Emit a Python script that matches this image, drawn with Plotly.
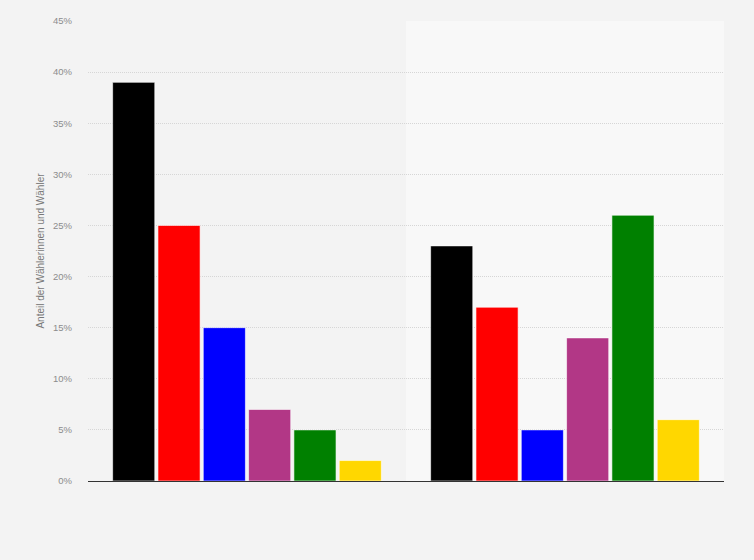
import plotly.graph_objects as go

# two groups, no labels shown on the axis
groups = ["Gruppe 1", "Gruppe 2"]

parties = ["CDU", "SPD", "AfD", "Die Linke", "Grüne", "FDP"]
colors = ["#000000", "#ff0000", "#0000ff", "#b23786", "#008000", "#ffd700"]

# share per party, in percent
values = {
    "CDU": [39, 23],
    "SPD": [25, 17],
    "AfD": [15, 5],
    "Die Linke": [7, 14],
    "Grüne": [5, 26],
    "FDP": [2, 6],
}

y_ticks = [0, 5, 10, 15, 20, 25, 30, 35, 40, 45]

fig = go.Figure()
for party, color in zip(parties, colors):
    fig.add_trace(go.Bar(
        x=groups,
        y=values[party],
        name=party,
        marker=dict(color=color, line=dict(color="#ffffff", width=0.6)),
    ))

# lighter band behind the second group
fig.add_shape(type="rect", xref="x", yref="y", x0=0.5, x1=1.5, y0=0, y1=45,
              fillcolor="#f8f8f8", line=dict(width=0), layer="below")

fig.update_layout(
    width=754,
    height=560,
    barmode="group",
    bargap=0.145,
    bargroupgap=0.07,
    showlegend=False,
    paper_bgcolor="#f3f3f3",
    plot_bgcolor="#f3f3f3",
    margin=dict(l=88, r=30, t=21, b=79),
    font=dict(family="Liberation Sans, Arial, sans-serif", size=9, color="#888888"),
    # dark baseline at 0 %
    xaxis=dict(showticklabels=False, showgrid=False, zeroline=False, ticks="",
               showline=True, linecolor="#333333", linewidth=1),
    yaxis=dict(
        range=[0, 45],
        tickvals=y_ticks,
        ticktext=[f"{v}%" for v in y_ticks],
        tickfont=dict(size=9.5, color="#8c8c8c"),
        showgrid=True,
        gridcolor="#d6d6d6",
        griddash="1px,1px",
        gridwidth=1,
        zeroline=False,
        showline=False,
        ticks="",
        ticklabelstandoff=15,
        title=dict(text="Anteil der Wählerinnen und Wähler", font=dict(size=10, color="#787878"),
                   standoff=6),
    ),
)

# drop the default page margin so the chart fills the window
fig.write_html("out.html", config={"displayModeBar": False},
               post_script="document.body.style.margin='0';")
